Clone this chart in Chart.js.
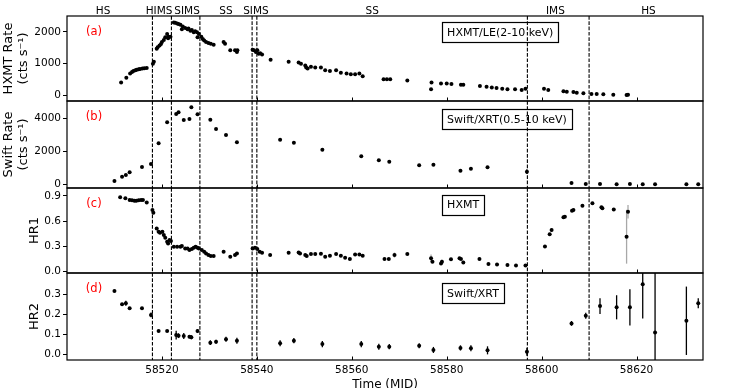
<!DOCTYPE html>
<html><head><meta charset="utf-8">
<script src="https://cdn.jsdelivr.net/npm/chart.js@4.4.1/dist/chart.umd.min.js"></script>
<style>
html,body{margin:0;padding:0;background:#fff;overflow:hidden;}
#wrap{position:relative;width:750px;height:388px;overflow:hidden;background:#fff;}
#wrap canvas{position:absolute;left:0;}
</style></head><body>
<div id="wrap">
<canvas id="ca" width="750" height="120" style="top:0px"></canvas>
<canvas id="cb" width="750" height="120" style="top:85px"></canvas>
<canvas id="cc" width="750" height="120" style="top:172px"></canvas>
<canvas id="cd" width="750" height="136" style="top:257px"></canvas>
</div>
<script>
// ---------- data ----------
const xMin = 58500, xMax = 58634;
const xTickValues = [58520, 58540, 58560, 58580, 58600, 58620];
const transitionMJD = [58518, 58522, 58528, 58539, 58540, 58597, 58610];
const stateNames = ['HS', 'HIMS', 'SIMS', 'SS', 'SIMS', 'SS', 'IMS', 'HS'];
const stateMJD = [58507.6, 58519.4, 58525.3, 58533.5, 58539.8, 58564.3, 58602.9, 58622.5];

const hxmtT = [58511.4,58512.5,58513.3,58513.7,58514.0,58514.4,58514.7,58515.1,58515.4,58515.9,
58516.3,58516.8,58518.1,58518.3,58518.9,58519.1,58519.5,58519.8,58520.0,58520.4,
58520.7,58521.1,58521.3,58521.4,58521.8,58522.5,58522.8,58523.2,58523.5,58523.9,
58524.2,58524.4,58524.9,58525.4,58525.6,58526.0,58526.3,58526.7,58527.0,58527.4,
58527.5,58527.8,58528.3,58528.6,58528.9,58529.3,58529.8,58530.3,58530.9,58533.0,
58533.3,58534.4,58535.4,58535.8,58535.9,58539.1,58539.4,58539.8,58540.1,58540.4,
58540.7,58541.1,58542.9,58546.7,58548.8,58549.3,58550.2,58550.4,58550.7,58551.4,
58552.3,58553.5,58554.4,58555.4,58556.7,58557.7,58558.9,58559.8,58560.7,58561.6,
58562.3,58566.7,58567.4,58568.1,58571.7,58576.8,58576.7,58578.8,58580.0,58581.0,
58583.0,58583.5,58587.0,58588.4,58589.5,58590.5,58591.7,58592.8,58594.4,58595.8,
58596.6,58600.5,58601.4,58604.6,58605.3,58606.7,58607.4,58608.8,58610.5,58611.6,
58613.0,58615.1,58617.9,58618.2];
const hxmtRate = [406,552,690,740,770,790,810,825,833,845,
855,865,1000,1060,1470,1520,1570,1620,1680,1750,
1830,1940,1800,1850,1850,2300,2290,2270,2250,2230,
2090,2170,2125,2090,2110,2040,2060,1990,2020,1990,
1830,1940,1850,1780,1730,1680,1650,1625,1600,1680,
1625,1420,1420,1370,1420,1440,1420,1370,1420,1310,
1330,1290,1125,1060,1040,1000,940,875,845,900,
875,875,790,770,790,710,690,667,667,690,
605,505,505,505,470,406,188,375,375,354,
333,333,292,271,250,229,208,188,188,167,
208,208,167,125,115,104,83,63,42,42,
31,21,10,21];

const swiftT = [58510.0,58511.6,58512.4,58513.2,58515.8,58517.7,58519.3,58521.1,58523.0,58523.5,
58524.6,58525.8,58526.2,58527.5,58530.2,58531.4,58533.5,58535.8,58544.9,58547.8,
58553.8,58562.0,58565.7,58567.9,58574.2,58577.2,58582.9,58585.1,58588.6,58596.9,
58606.3,58609.3,58612.3,58615.8,58618.6,58621.3,58623.9,58630.5,58633.0];
const swiftRate = [202,465,566,727,1050,1232,2485,3758,4263,4364,
3899,3960,4667,4242,3919,3354,2990,2545,2707,2525,
2101,1697,1455,1374,1152,1192,828,949,1030,768,
80,20,15,10,15,10,10,8,8];
const swiftRateErr = [0,0,0,0,0,0,0,0,0,0,
0,0,0,0,0,0,0,0,0,0,
0,0,0,0,0,0,0,0,0,150,
0,0,0,0,0,0,0,0,0];

const hr1T = [58511.2,58512.3,58513.2,58513.7,58514.2,58514.6,58515.1,58515.6,58516.0,58516.8,
58518.0,58518.2,58518.9,58519.3,58519.6,58520.1,58520.4,58520.7,58521.1,58521.3,
58521.6,58521.9,58522.5,58523.2,58523.9,58524.2,58524.9,58525.4,58525.8,58526.3,
58526.7,58527.1,58527.5,58527.8,58528.4,58528.9,58529.3,58529.8,58530.3,58530.9,
58533.0,58534.4,58535.4,58535.8,58539.1,58539.6,58540.1,58540.6,58541.1,58542.8,
58546.7,58548.8,58549.1,58550.2,58550.5,58551.4,58552.3,58553.5,58554.4,58555.4,
58556.7,58557.7,58558.6,58559.6,58560.7,58561.6,58562.3,58566.9,58567.8,58569.0,
58571.7,58576.7,58577.0,58578.8,58579.0,58580.9,58582.7,58583.0,58583.5,58586.9,
58588.8,58590.6,58592.8,58594.6,58596.6,58600.7,58601.7,58602.1,58604.6,58604.9,
58606.4,58606.7,58608.6,58610.7,58612.6,58612.8,58615.2,58617.9,58618.2];
const hr1 = [0.884,0.872,0.852,0.848,0.844,0.844,0.848,0.852,0.852,0.824,
0.733,0.702,0.515,0.476,0.464,0.476,0.436,0.404,0.357,0.337,
0.377,0.365,0.297,0.297,0.297,0.305,0.277,0.277,0.258,0.270,
0.285,0.297,0.285,0.277,0.258,0.238,0.218,0.198,0.186,0.186,
0.238,0.178,0.198,0.218,0.277,0.285,0.270,0.238,0.226,0.198,
0.226,0.230,0.218,0.198,0.186,0.210,0.210,0.214,0.178,0.190,
0.210,0.190,0.166,0.151,0.206,0.206,0.190,0.151,0.151,0.198,
0.210,0.159,0.119,0.099,0.119,0.147,0.159,0.151,0.111,0.151,
0.091,0.087,0.079,0.075,0.075,0.301,0.444,0.495,0.646,0.654,
0.725,0.733,0.785,0.813,0.765,0.753,0.741,0.416,0.713];
const hr1Err = [0.006,0.006,0.006,0.006,0.006,0.006,0.006,0.006,0.006,0.006,
0.008,0.008,0.008,0.008,0.008,0.008,0.008,0.008,0.008,0.008,
0.008,0.008,0.006,0.006,0.006,0.006,0.006,0.006,0.006,0.006,
0.006,0.006,0.006,0.006,0.006,0.006,0.006,0.006,0.006,0.006,
0.006,0.008,0.008,0.008,0.006,0.006,0.006,0.006,0.006,0.008,
0.008,0.008,0.008,0.008,0.008,0.008,0.008,0.008,0.008,0.008,
0.008,0.008,0.008,0.008,0.008,0.008,0.008,0.010,0.010,0.030,
0.010,0.045,0.015,0.012,0.025,0.010,0.015,0.010,0.020,0.010,
0.008,0.008,0.008,0.008,0.008,0.010,0.010,0.020,0.010,0.010,
0.010,0.010,0.010,0.010,0.010,0.010,0.012,0.320,0.080];

const hr2 = [0.315,0.249,0.254,0.229,0.229,0.196,0.116,0.116,0.096,0.093,
0.091,0.088,0.085,0.116,0.058,0.063,0.075,0.068,0.055,0.068,
0.051,0.051,0.038,0.038,0.043,0.022,0.032,0.030,0.020,0.013,
0.154,0.192,0.240,0.234,0.234,0.348,0.109,0.167,0.254];
const hr2Err = [0.004,0.006,0.012,0.005,0.005,0.012,0.005,0.005,0.022,0.012,
0.015,0.008,0.010,0.010,0.012,0.010,0.012,0.015,0.015,0.013,
0.015,0.015,0.015,0.013,0.012,0.015,0.013,0.015,0.020,0.020,
0.012,0.015,0.039,0.060,0.090,0.170,0.350,0.170,0.025];

const yTicksA = [0, 1000, 2000];
const yTicksB = [0, 2000, 4000];
const yTicksC = [0.0, 0.3, 0.6, 0.9];
const yTicksD = [0.0, 0.1, 0.2, 0.3];

// ---------- drawing ----------
const FONT = '"DejaVu Sans", sans-serif';
Chart.defaults.font.family = FONT;
Chart.defaults.color = '#000';

function decoPlugin(p) {
  return {
    id: 'deco_' + p.key,
    beforeDatasetsDraw(chart) {
      const {ctx, chartArea: a, scales: {x, y}} = chart;
      ctx.save();
      // annotation box
      ctx.font = '11px ' + FONT;
      const tw = ctx.measureText(p.boxText).width;
      const bx = a.left + 0.589 * (a.right - a.left);
      const by = a.top + p.boxTop;
      ctx.strokeStyle = '#000'; ctx.lineWidth = 1.2;
      ctx.strokeRect(Math.round(bx) + 0.5, Math.round(by) + 0.5, Math.round(tw + 10), 20);
      ctx.fillStyle = '#000'; ctx.textAlign = 'left'; ctx.textBaseline = 'middle';
      ctx.fillText(p.boxText, bx + 5.5, by + 11);
      // panel tag
      ctx.fillStyle = '#ff0000'; ctx.font = '11.5px ' + FONT; ctx.textAlign = 'center';
      ctx.fillText(p.tag, a.left + 27, a.top + 16.5);
      // clip to plot area
      ctx.beginPath(); ctx.rect(a.left, a.top, a.right - a.left, a.bottom - a.top); ctx.clip();
      // error bars
      if (p.err) {
        ctx.strokeStyle = p.errColor; ctx.lineWidth = 1.3;
        for (let i = 0; i < p.x.length; i++) {
          const e = p.err[i]; if (!e) continue;
          const px = x.getPixelForValue(p.x[i]);
          ctx.beginPath();
          ctx.moveTo(px, y.getPixelForValue(p.y[i] - e));
          ctx.lineTo(px, y.getPixelForValue(p.y[i] + e));
          ctx.stroke();
        }
      }
      // state transitions
      ctx.setLineDash([3.7, 1.6]); ctx.strokeStyle = '#000'; ctx.lineWidth = 1.1;
      for (const t of transitionMJD) {
        const px = x.getPixelForValue(t);
        ctx.beginPath(); ctx.moveTo(px, a.top); ctx.lineTo(px, a.bottom); ctx.stroke();
      }
      ctx.restore();
    },
    afterDraw(chart) {
      const {ctx, chartArea: a, scales: {x}} = chart;
      ctx.save();
      ctx.strokeStyle = '#000'; ctx.lineWidth = 1;
      for (const t of xTickValues) {
        const px = Math.round(x.getPixelForValue(t)) + 0.5;
        ctx.beginPath(); ctx.moveTo(px, a.bottom); ctx.lineTo(px, a.bottom - 3.5); ctx.stroke();
      }
      ctx.lineWidth = 1.2;
      ctx.strokeRect(a.left, a.top, a.right - a.left, a.bottom - a.top);
      if (p.states) {
        ctx.fillStyle = '#000'; ctx.font = '10.5px ' + FONT;
        ctx.textAlign = 'center'; ctx.textBaseline = 'alphabetic';
        for (let i = 0; i < stateNames.length; i++) {
          ctx.fillText(stateNames[i], x.getPixelForValue(stateMJD[i]), 14);
        }
      }
      ctx.restore();
    }
  };
}

function makePanel(id, p) {
  const pts = p.x.map((t, i) => ({x: t, y: p.y[i]}));
  return new Chart(document.getElementById(id), {
    type: 'scatter',
    data: {datasets: [{data: pts, pointRadius: 2, pointBackgroundColor: '#000',
      pointBorderWidth: 0, pointBorderColor: '#000', showLine: false}]},
    options: {
      responsive: false, animation: false, events: [],
      layout: {padding: {left: 0, right: 47, top: 16, bottom: p.padBottom}},
      plugins: {legend: {display: false}, tooltip: {enabled: false}},
      scales: {
        x: {
          type: 'linear', min: xMin, max: xMax, display: p.showX,
          afterBuildTicks: s => { s.ticks = xTickValues.map(v => ({value: v})); },
          afterFit: s => { if (p.showX) s.height = 33; },
          grid: {display: false, drawTicks: false},
          border: {display: false},
          ticks: {font: {size: 10.5}, color: '#000', padding: 4, maxRotation: 0,
            callback: v => String(v)},
          title: {display: p.showX, text: 'Time (MJD)', font: {size: 12}, color: '#000',
            padding: {top: 0, bottom: 1}}
        },
        y: {
          type: 'linear', min: p.yMin, max: p.yMax,
          afterBuildTicks: s => { s.ticks = p.yTicks.map(v => ({value: v})); },
          afterFit: s => { s.width = 67; },
          grid: {drawOnChartArea: false, drawTicks: true, tickLength: 4, color: '#000', lineWidth: 1},
          border: {display: false},
          ticks: {font: {size: 10.5}, color: '#000', padding: 2,
            callback: v => p.fmt(v)},
          title: {display: true, text: p.title, color: '#000',
            font: {size: 13, lineHeight: 1.15}, padding: {top: p.titlePad, bottom: 0}}
        }
      }
    },
    plugins: [decoPlugin(p)]
  });
}

makePanel('ca', {key: 'a', x: hxmtT, y: hxmtRate, err: null, yMin: -180, yMax: 2505,
  yTicks: yTicksA, fmt: v => String(v), title: ['HXMT Rate', '(cts s\u207B\u00B9)'], titlePad: 1.5,
  tag: '(a)', boxText: 'HXMT/LE(2-10 keV)', boxTop: 5.7, padBottom: 19, showX: false, states: true});
makePanel('cb', {key: 'b', x: swiftT, y: swiftRate, err: swiftRateErr, errColor: '#000',
  yMin: -224, yMax: 5048, yTicks: yTicksB, fmt: v => String(v),
  title: ['Swift Rate', '(cts s\u207B\u00B9)'], titlePad: 1.0,
  tag: '(b)', boxText: 'Swift/XRT(0.5-10 keV)', boxTop: 8, padBottom: 17, showX: false});
makePanel('cc', {key: 'c', x: hr1T, y: hr1, err: hr1Err, errColor: '#a8a8a8',
  yMin: -0.015, yMax: 0.995, yTicks: yTicksC, fmt: v => v.toFixed(1),
  title: 'HR1', titlePad: 27,
  tag: '(c)', boxText: 'HXMT', boxTop: 6.5, padBottom: 19, showX: false});
makePanel('cd', {key: 'd', x: swiftT, y: hr2, err: hr2Err, errColor: '#000',
  yMin: -0.028, yMax: 0.4045, yTicks: yTicksD, fmt: v => v.toFixed(1),
  title: 'HR2', titlePad: 27,
  tag: '(d)', boxText: 'Swift/XRT', boxTop: 10, padBottom: 0, showX: true});
</script>
</body></html>
